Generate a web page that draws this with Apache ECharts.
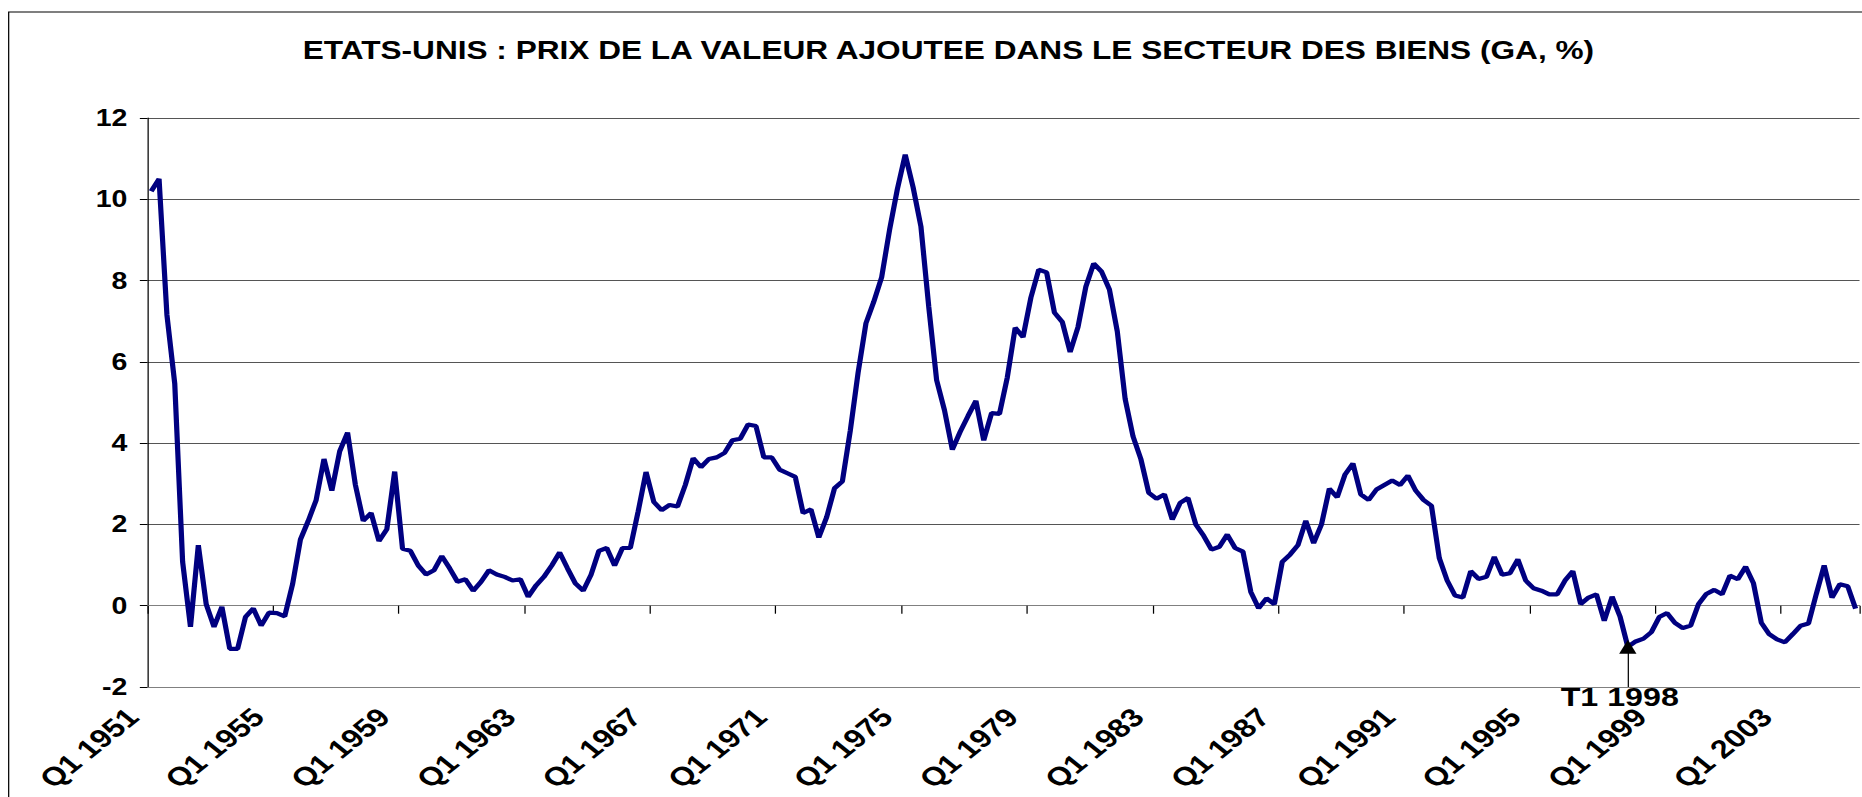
<!DOCTYPE html>
<html>
<head>
<meta charset="utf-8">
<script src="https://cdn.jsdelivr.net/npm/echarts@6.0.0/dist/echarts.min.js"></script>
<style>
html, body { margin: 0; padding: 0; background: #fff; overflow: hidden; }
/* the source picture is stretched sideways, so the chart is too */
#main { width: 1502px; height: 797px; transform: scaleX(1.23968); transform-origin: 0 0; }
</style>
</head>
<body>
<div id="main"></div>
<script>
var titleText = 'ETATS-UNIS : PRIX DE LA VALEUR AJOUTEE DANS LE SECTEUR DES BIENS (GA, %)';
var startYear = 1951;
var values = [
	10.2, 10.5, 7.16, 5.46, 1.08, -0.52, 1.49, 0.04, -0.52, -0.03,
	-1.06, -1.06, -0.28, -0.07, -0.49, -0.17, -0.18, -0.26, 0.53, 1.63,
	2.09, 2.6, 3.61, 2.83, 3.8, 4.26, 2.97, 2.09, 2.28, 1.59,
	1.88, 3.3, 1.4, 1.35, 0.99, 0.77, 0.87, 1.22, 0.92, 0.59,
	0.65, 0.37, 0.59, 0.87, 0.77, 0.71, 0.62, 0.65, 0.22, 0.5,
	0.71, 0.99, 1.31, 0.92, 0.55, 0.37, 0.76, 1.35, 1.42, 0.99,
	1.42, 1.42, 2.32, 3.29, 2.55, 2.35, 2.48, 2.44, 2.97, 3.63,
	3.41, 3.61, 3.65, 3.76, 4.07, 4.11, 4.46, 4.42, 3.65, 3.65,
	3.35, 3.26, 3.17, 2.28, 2.37, 1.68, 2.18, 2.89, 3.06, 4.3,
	5.73, 6.95, 7.48, 8.08, 9.24, 10.25, 11.1, 10.3, 9.33, 7.35,
	5.55, 4.81, 3.84, 4.28, 4.67, 5.04, 4.07, 4.74, 4.72, 5.62,
	6.84, 6.61, 7.58, 8.27, 8.2, 7.21, 6.98, 6.24, 6.86, 7.85,
	8.42, 8.22, 7.78, 6.75, 5.09, 4.17, 3.61, 2.78, 2.63, 2.74,
	2.12, 2.53, 2.65, 2.0, 1.72, 1.38, 1.45, 1.75, 1.42, 1.33,
	0.34, -0.06, 0.18, 0.04, 1.08, 1.26, 1.49, 2.09, 1.54, 2.0,
	2.88, 2.67, 3.23, 3.5, 2.74, 2.6, 2.86, 2.97, 3.08, 2.97,
	3.2, 2.83, 2.6, 2.46, 1.17, 0.62, 0.25, 0.2, 0.85, 0.66,
	0.71, 1.2, 0.76, 0.8, 1.14, 0.62, 0.43, 0.37, 0.28, 0.28,
	0.62, 0.85, 0.04, 0.2, 0.28, -0.37, 0.22, -0.26, -1.01, -0.88,
	-0.81, -0.65, -0.28, -0.18, -0.42, -0.55, -0.49, 0.04, 0.29, 0.39,
	0.28, 0.74, 0.65, 0.96, 0.55, -0.42, -0.7, -0.83, -0.9, -0.7,
	-0.49, -0.44, 0.29, 0.99, 0.2, 0.53, 0.48, -0.07
];
var yMin = -2, yMax = 12, yStep = 2;
var labelEvery = 16;
var noteText = 'T1 1998';
var noteIndex = 188;

var categories = [];
for (var i = 0; i < values.length; i++) {
	categories.push('Q' + (i % 4 + 1) + ' ' + (startYear + Math.floor(i / 4)));
}

var font = 'Liberation Sans, Arial, sans-serif';
var option = {
	animation: false,
	backgroundColor: '#fff',
	title: {
		text: titleText,
		left: 760,
		textAlign: 'center',
		top: 32,
		textStyle: { fontFamily: font, fontWeight: 'bold', fontSize: 25.5, color: '#000' }
	},
	graphic: [{
		type: 'rect',
		silent: true,
		shape: { x: 7, y: 12, width: 1600, height: 900 },
		style: { fill: 'none', stroke: '#000', lineWidth: 1 }
	}],
	grid: { left: 118.8, right: 2, top: 118, bottom: 110 },
	xAxis: [{
		type: 'category',
		data: categories,
		position: 'bottom',
		axisLine: { onZero: false, lineStyle: { color: '#808080', width: 1 } },
		axisTick: { show: false },
		axisLabel: {
			interval: labelEvery - 1,
			rotate: 45,
			margin: 11,
			padding: [0, 21, 0, 0],
			fontFamily: font,
			fontWeight: 'bold',
			fontSize: 26,
			color: '#000'
		}
	}, {
		type: 'category',
		data: categories,
		position: 'top',
		axisLine: { onZero: true, lineStyle: { color: '#808080', width: 1 } },
		axisTick: { show: true, inside: true, interval: labelEvery - 1, length: 8, lineStyle: { color: '#000' } },
		axisLabel: { show: false }
	}],
	yAxis: {
		type: 'value',
		min: yMin,
		max: yMax,
		interval: yStep,
		axisLine: { show: true, lineStyle: { color: '#000', width: 1 } },
		axisTick: { show: true, length: 6, lineStyle: { color: '#000' } },
		axisLabel: {
			margin: 16,
			fontFamily: font,
			fontWeight: 'bold',
			fontSize: 23,
			color: '#000'
		},
		splitLine: { lineStyle: { color: '#555', width: 1 } }
	},
	series: [{
		type: 'line',
		data: values,
		symbol: 'none',
		lineStyle: { color: '#000080', width: 4.2 },
		markLine: {
			silent: true,
			symbol: ['triangle', 'none'],
			symbolSize: [14, 14],
			lineStyle: { color: '#000', width: 1, type: 'solid' },
			label: {
				show: true,
				position: 'end',
				distance: -3,
				padding: [0, 13, 0, 0],
				formatter: noteText,
				fontFamily: font,
				fontWeight: 'bold',
				fontSize: 26,
				color: '#000'
			},
			data: [[
				{ coord: [categories[noteIndex], values[noteIndex]] },
				{ coord: [categories[noteIndex], yMin] }
			]]
		}
	}]
};
var my = echarts.init(document.getElementById('main'), null, { renderer: 'svg' });
my.setOption(option);
</script>
</body>
</html>
